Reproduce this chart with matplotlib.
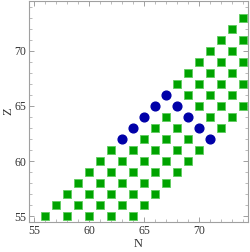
import matplotlib
matplotlib.use('Agg')
import matplotlib.pyplot as plt
from matplotlib.ticker import MultipleLocator

# green squares, one row per Z value: list of N values
green_rows = {
    55: [56, 58, 60, 62, 64],
    56: [57, 59, 61, 63, 65],
    57: [58, 60, 62, 64, 66],
    58: [59, 61, 63, 65, 67],
    59: [60, 62, 64, 66, 68],
    60: [61, 63, 65, 67, 69],
    61: [62, 64, 66, 68, 70],
    62: [65, 67, 69],
    63: [66, 68, 72],
    64: [67, 71, 73],
    65: [70, 72, 74],
    66: [69, 71, 73],
    67: [68, 70, 72, 74],
    68: [69, 71, 73],
    69: [70, 72, 74],
    70: [71, 73],
    71: [72, 74],
    72: [73],
    73: [74],
}

# blue circles
blue_N = [63, 64, 65, 66, 67, 68, 69, 70, 71]
blue_Z = [62, 63, 64, 65, 66, 65, 64, 63, 62]

green_N = []
green_Z = []
for z, ns in green_rows.items():
    for n in ns:
        green_N.append(n)
        green_Z.append(z)

plt.rcParams['font.family'] = ['Liberation Serif', 'DejaVu Serif']

fig = plt.figure(figsize=(2.5, 2.52), dpi=100)
ax = fig.add_axes([0.116, 0.119, 0.876, 0.877])

ax.plot(green_N, green_Z, 's', color='#00a300', markeredgecolor='#5fcc5f',
        markeredgewidth=0.6, markersize=6.1, linestyle='none')
ax.plot(blue_N, blue_Z, 'o', color='#0000a8', markeredgecolor='#0000a8',
        markersize=6.3, linestyle='none')

ax.set_xlim(54.5, 74.5)
ax.set_ylim(54.5, 74.5)

ax.xaxis.set_major_locator(MultipleLocator(5))
ax.yaxis.set_major_locator(MultipleLocator(5))
ax.xaxis.set_minor_locator(MultipleLocator(1))
ax.yaxis.set_minor_locator(MultipleLocator(1))

frame_col = '#a0a0a0'
for s in ax.spines.values():
    s.set_color(frame_col)
    s.set_linewidth(0.8)
ax.tick_params(which='both', direction='in', top=True, right=True,
               color=frame_col, labelsize=8.5, labelcolor='#333333', pad=2)
ax.tick_params(which='major', length=3.5, width=0.7)
ax.tick_params(which='minor', length=2, width=0.5)

ax.set_xlabel('N', fontsize=9, color='#333333', labelpad=1)
ax.set_ylabel('Z', fontsize=9, color='#333333', labelpad=0)

fig.savefig('out.png', dpi=100)
